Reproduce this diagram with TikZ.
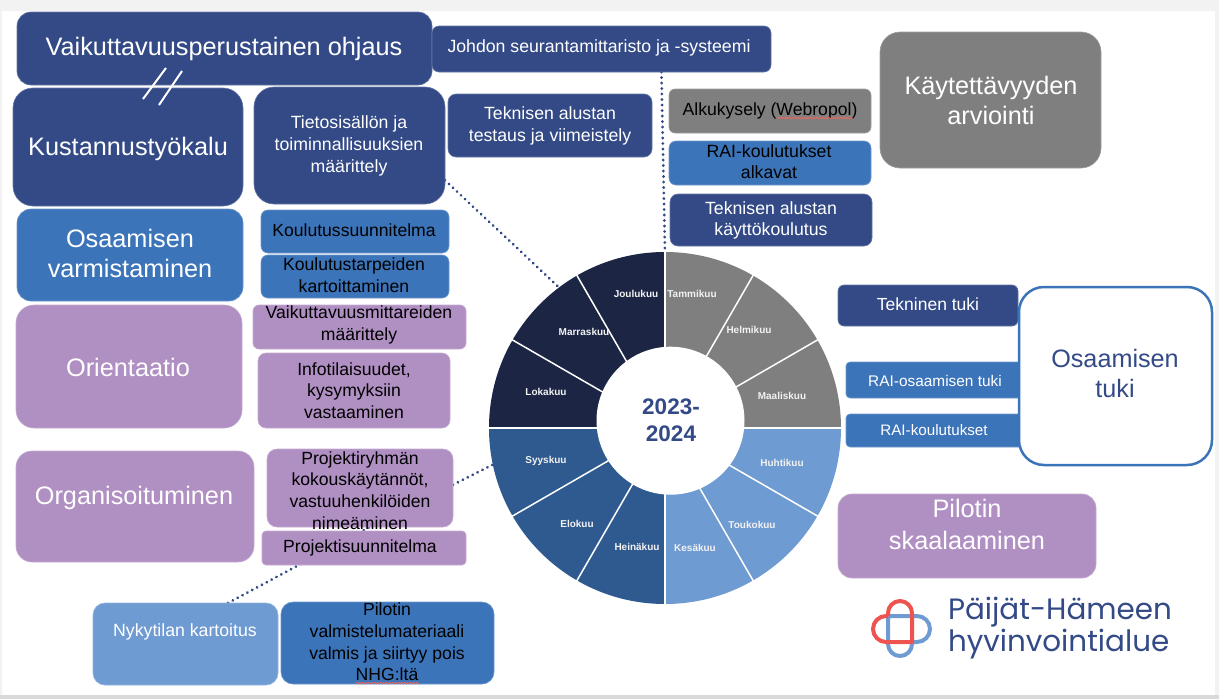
\documentclass[tikz,border=0pt]{standalone}
\usepackage{fontspec}
\setmainfont{Liberation Sans}
\newfontfamily\logofont{Poppins}
\usetikzlibrary{decorations.pathmorphing}
\definecolor{navyc}{HTML}{334A87}
\definecolor{midc}{HTML}{3C74B9}
\definecolor{lightc}{HTML}{6F9BD3}
\definecolor{purpc}{HTML}{B08FC2}
\definecolor{grayc}{HTML}{7F7F7F}
\definecolor{wheeldark}{HTML}{1C2644}
\definecolor{wheelmid}{HTML}{2F5A8F}
\definecolor{logored}{HTML}{EF5350}
\definecolor{squigc}{HTML}{E8685E}
\pgfdeclarelayer{bg}\pgfdeclarelayer{lines}\pgfsetlayers{bg,lines,main}
\tikzset{
  B/.style 2 args={rectangle,rounded corners=#1,fill=#2,draw=#2!75!white,line width=.6pt,inner sep=0,outer sep=0},
  T/.style n args={3}{text=#1,font=\fontsize{#2}{#3}\selectfont,align=center,inner sep=0,outer sep=0},
  big/.style={T={white}{25.3}{30}},
  dots/.style={draw=navyc,line width=3pt,line cap=round,dash pattern=on 0.1pt off 5.4pt},
  month/.style={T={white!90!gray}{10}{11},font=\fontsize{10}{11}\selectfont\bfseries},
  squig/.style={draw=squigc,line width=.7pt,decorate,decoration={zigzag,segment length=3pt,amplitude=.8pt}},
  cut/.style={draw=white,line width=2pt}
}
\newcommand\bx[9]{%
  \pgfmathsetmacro\cxx{(#2+#4)/2}\pgfmathsetmacro\cyy{(#3+#5)/2}%
  \pgfmathsetmacro\www{#4-#2}\pgfmathsetmacro\hhh{#5-#3}%
  \node[#6,minimum width=\www pt,minimum height=\hhh pt] (#1) at (\cxx,\cyy) {};
  \node[#8] (#1-t) at #7 {#9};
}
\begin{document}
\begin{tikzpicture}[x=1pt,y=-1pt]
\useasboundingbox (0,0) rectangle (1219,699);
\begin{pgfonlayer}{bg}
\fill[gray!10] (0,0) rectangle (1219,699);
\fill[gray!30] (0,695) rectangle (1219,699);
\fill[white] (2,11) rectangle (1215,695);
\end{pgfonlayer}

% wheel
\node[circle,minimum size=352pt,inner sep=0,outer sep=0] (wheel) at (665,428) {};
\begin{scope}
\clip (665,428) circle[radius=176];
\fill[grayc] (665,428) rectangle (845,250);
\fill[lightc] (665,428) rectangle (845,606);
\fill[wheelmid] (665,428) rectangle (485,606);
\fill[wheeldark] (665,428) rectangle (485,250);
\end{scope}
\foreach \a in {0,30,...,330} \draw[white,line width=1.5pt] (wheel.center) -- +(\a:177);
\node[circle,fill=white,minimum size=148pt,inner sep=0,outer sep=0] (hub) at (670.5,420.7) {};
\node[T={navyc}{22.5}{26.5},font=\fontsize{22.5}{26.5}\selectfont\bfseries] (year) at (671,420) {2023-\\2024};
\node[month] (m1) at (692,294) {Tammikuu};
\node[month] (m2) at (749,330) {Helmikuu};
\node[month] (m3) at (782,396) {Maaliskuu};
\node[month] (m4) at (782,463) {Huhtikuu};
\node[month] (m5) at (752,525) {Toukokuu};
\node[month] (m6) at (695,548) {Kesäkuu};
\node[month] (m7) at (637,547) {Heinäkuu};
\node[month] (m8) at (577,524) {Elokuu};
\node[month] (m9) at (546,461) {Syyskuu};
\node[month] (m10) at (546,392) {Lokakuu};
\node[month] (m11) at (584,332) {Marraskuu};
\node[month] (m12) at (636,294) {Joulukuu};

% boxes
\bx{vaik}{17}{12}{432}{85}{B={14pt}{navyc}}{(224,49)}{big}{Vaikuttavuusperustainen ohjaus}
\bx{kust}{13}{88}{243}{206}{B={20pt}{navyc}}{(128,149)}{big}{Kustannustyökalu}
\bx{tieto}{254}{87}{445}{204}{B={20pt}{navyc}}{(349,146)}{T={white}{17.7}{22}}{Tietosisällön ja\\toiminnallisuuksien\\määrittely}
\bx{johd}{432}{26}{771}{72}{B={7pt}{navyc}}{(599,48)}{T={white}{17.7}{20}}{Johdon seurantamittaristo ja -systeemi}
\bx{test}{448}{94}{652}{157}{B={8pt}{navyc}}{(550,126)}{T={white}{17.7}{22}}{Teknisen alustan\\testaus ja viimeistely}
\bx{alku}{669}{89}{871}{133}{B={6pt}{grayc}}{(770,110.5)}{T={black}{17.6}{20}}{Alkukysely (Webropol)}
\bx{raik}{669}{141}{871}{185}{B={7pt}{midc}}{(769,162)}{T={black}{17.7}{21}}{RAI-koulutukset\\alkavat}
\bx{tekk}{670}{194}{872}{246}{B={8pt}{navyc}}{(771,220)}{T={white}{17.7}{21}}{Teknisen alustan\\käyttökoulutus}
\bx{kayt}{880}{32}{1101}{168}{B={20pt}{grayc}}{(991,100)}{big}{Käytettävyyden\\arviointi}
\bx{osv}{17}{209}{243}{301}{B={14pt}{midc}}{(130,253)}{big}{Osaamisen\\varmistaminen}
\bx{ksuun}{261}{210}{449}{253}{B={7pt}{midc}}{(354,230.5)}{T={black}{17.6}{20}}{Koulutussuunnitelma}
\bx{ktarp}{261}{255}{449}{298}{B={7pt}{midc}}{(354,275)}{T={black}{17.6}{22}}{Koulutustarpeiden\\kartoittaminen}
\bx{orie}{16}{305}{242}{428}{B={18pt}{purpc}}{(128,367.5)}{big}{Orientaatio}
\bx{vmit}{253}{305}{466}{349}{B={6pt}{purpc}}{(359,325)}{T={black}{17.6}{22}}{Vaikuttavuusmittareiden\\määrittely}
\bx{info}{258}{353}{450}{428}{B={8pt}{purpc}}{(354,390.5)}{T={black}{17.6}{21.5}}{Infotilaisuudet,\\kysymyksiin\\vastaaminen}
\bx{orga}{16}{451}{254}{562}{B={16pt}{purpc}}{(134,498)}{big}{Organisoituminen}
\bx{prya}{267}{449}{453}{527}{B={10pt}{purpc}}{(360,490.5)}{T={black}{17.6}{21.7}}{Projektiryhmän\\kokouskäytännöt,\\vastuuhenkilöiden\\nimeäminen}
\bx{psuu}{262}{531}{466}{565}{B={4pt}{purpc}}{(360,547.5)}{T={black}{17.6}{20}}{Projektisuunnitelma}
\bx{nyky}{93}{603}{278}{685}{B={12pt}{lightc}}{(185,631.5)}{T={white}{17.7}{20}}{Nykytilan kartoitus}
\bx{pval}{281}{602}{494}{684}{B={12pt}{midc}}{(387,642)}{T={black}{17.6}{21.7}}{Pilotin\\valmistelumateriaali\\valmis ja siirtyy pois\\NHG:ltä}
\bx{ttuk}{838}{285}{1018}{326}{B={6pt}{navyc}}{(928,304.5)}{T={white}{17.5}{18}}{Tekninen tuki}
\bx{raio}{846}{362}{1025}{398}{B={4pt}{midc}}{(935,380.5)}{T={white}{15.4}{18}}{RAI-osaamisen tuki}
\bx{raiu}{846}{414}{1025}{447}{B={4pt}{midc}}{(934,430.5)}{T={white}{15.2}{18}}{RAI-koulutukset}
\node[rectangle,rounded corners=25pt,fill=white,draw=midc,line width=2.5pt,minimum width=193pt,minimum height=178pt,inner sep=0,outer sep=0] (ostu) at (1115.5,376) {};
\node[T={navyc}{25.2}{30}] (ostu-t) at (1115,373) {Osaamisen\\tuki};
\bx{skaa}{838}{494}{1096}{578}{B={14pt}{purpc}}{(967,524)}{T={white}{25.3}{32}}{Pilotin\\skaalaaminen}

% connectors
\begin{pgfonlayer}{lines}
\draw[dots] (tieto.-20) -- (wheel.127);
\draw[dots] (johd.-21) -- (wheel.90);
\draw[dots] (prya.2) -- (wheel.192);
\draw[dots] (nyky.44) -- (prya.-76);
\end{pgfonlayer}

% cut marks
\coordinate (c1a) at (166,68); \coordinate (c1b) at (143,99);
\coordinate (c2a) at (182,71); \coordinate (c2b) at (159,105);
\draw[cut] (c1a) -- (c1b);
\draw[cut] (c2a) -- (c2b);

% spell-check squiggles
\coordinate (s1a) at (777,118); \coordinate (s1b) at (853,118);
\coordinate (s2a) at (356,683); \coordinate (s2b) at (419,683);
\draw[squig] (s1a) -- (s1b);
\draw[squig] (s2a) -- (s2b);

% logo
\draw[lightc,line width=4pt] (888,616) -- (917,616) arc[start angle=-90,end angle=90,radius=13] -- (912,642) -- (912,644) arc[start angle=0,end angle=180,radius=12] -- cycle;
\draw[logored,line width=4pt,line join=round] (888,616) -- (888,613) arc[start angle=180,end angle=360,radius=12] -- (912,642) -- (886,642) arc[start angle=90,end angle=270,radius=13] -- (888,616);
\node[T={navyc}{29.4}{32},font=\logofont\fontsize{29.4}{32}\selectfont,align=left,anchor=west] (logo) at (948,628) {Päijät-Hämeen\\hyvinvointialue};
\end{tikzpicture}
\end{document}
